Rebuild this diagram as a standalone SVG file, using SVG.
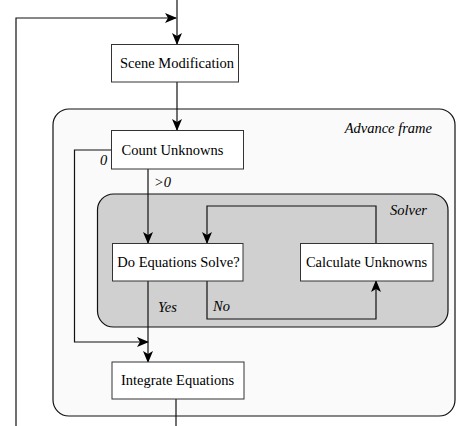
<svg xmlns="http://www.w3.org/2000/svg" width="456" height="426" viewBox="0 0 456 426">
<defs>
<marker id="ah" markerWidth="12" markerHeight="10" refX="11" refY="5" orient="auto" markerUnits="userSpaceOnUse">
<path d="M0,0 L12,5 L0,10 L3,5 z" fill="#000"/>
</marker>
<style>
.box{fill:#fff;stroke:#333;stroke-width:1}
.t{font-size:14.5px;fill:#000}
.i{font-size:14.5px;font-style:italic;fill:#000}
.c{fill:none;stroke:#111;stroke-width:1.2}
</style>
</defs>
<rect width="456" height="426" fill="#fff"/>
<g font-family="'Liberation Serif', 'Times New Roman', serif">
<g id="advance-frame">
<rect x="53" y="109" width="402" height="307" rx="16" fill="#fafafa" stroke="#111" stroke-width="1.2"/>
<text class="i" x="432" y="133" text-anchor="end">Advance frame</text>
</g>
<g id="solver">
<rect x="97.5" y="194" width="350.5" height="133" rx="16" fill="#d0d0d0" stroke="#111" stroke-width="1.2"/>
<text class="i" x="427" y="215" text-anchor="end">Solver</text>
</g>
<g id="connectors">
<path class="c" d="M177,0 V44" marker-end="url(#ah)"/>
<path class="c" d="M16,426 V18 H176" marker-end="url(#ah)"/>
<path class="c" d="M177,82 V130" marker-end="url(#ah)"/>
<path class="c" d="M111,150 H74.5 V342 H148" marker-end="url(#ah)"/>
<path class="c" d="M148,169 V243" marker-end="url(#ah)"/>
<path class="c" d="M376,243 V206 H207 V243" marker-end="url(#ah)"/>
<path class="c" d="M207,281 V319 H376 V281" marker-end="url(#ah)"/>
<path class="c" d="M148,281 V362" marker-end="url(#ah)"/>
<path class="c" d="M176,399 V426"/>
<text class="i" x="100" y="165">0</text>
<text class="i" x="154" y="187">&gt;0</text>
<text class="i" x="158" y="312">Yes</text>
<text class="i" x="213" y="311">No</text>
</g>
<g id="scene-modification">
<rect class="box" x="111.5" y="44.5" width="127" height="37.5"/>
<text class="t" x="177" y="68" text-anchor="middle">Scene Modification</text>
</g>
<g id="count-unknowns">
<rect class="box" x="111.5" y="130.5" width="132" height="38.5"/>
<text class="t" x="172.5" y="155" text-anchor="middle">Count Unknowns</text>
</g>
<g id="do-equations-solve">
<rect class="box" x="112.5" y="243.5" width="130.5" height="37.5"/>
<text class="t" x="178.5" y="267" text-anchor="middle">Do Equations Solve?</text>
</g>
<g id="calculate-unknowns">
<rect class="box" x="300.5" y="243.5" width="132.5" height="37.5"/>
<text class="t" x="366.5" y="267" text-anchor="middle">Calculate Unknowns</text>
</g>
<g id="integrate-equations">
<rect class="box" x="112" y="362" width="132" height="37"/>
<text class="t" x="177.5" y="385" text-anchor="middle">Integrate Equations</text>
</g>
</g>
</svg>
